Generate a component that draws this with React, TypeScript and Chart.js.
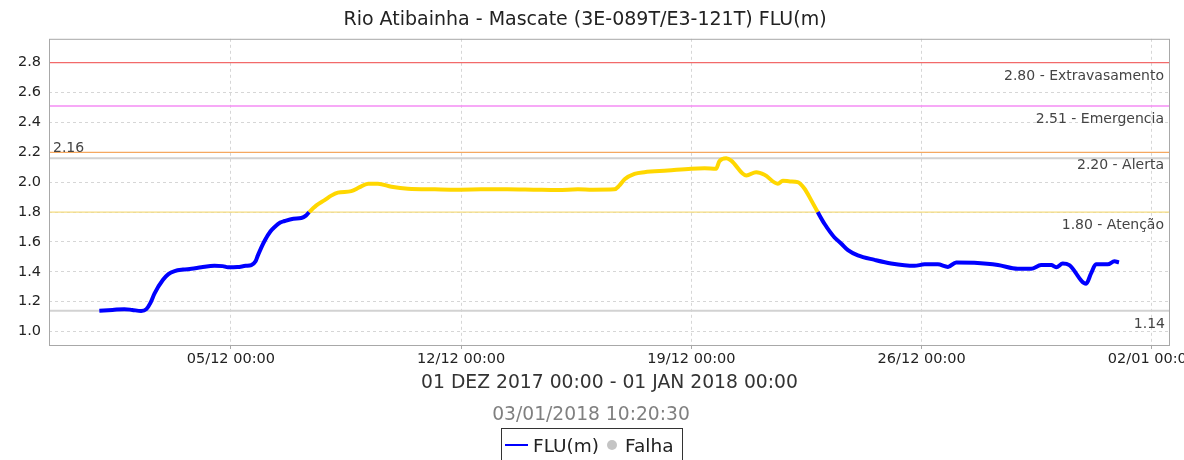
import React, { useEffect, useRef } from "react";
import { Chart, registerables } from "chart.js";

Chart.register(...registerables);

// Days since 01/12/2017 00:00
const days: number[] = [
  0, 0.4, 0.76, 1.0, 1.27, 1.43, 1.55, 1.68, 1.93, 2.1, 2.29, 2.55, 2.8, 3.1, 3.5, 3.75, 3.91,
  4.2, 4.45, 4.62, 4.75, 4.82, 5.03, 5.2, 5.33, 5.5, 5.63, 5.9, 6.14, 6.28, 6.38, 6.6, 6.85,
  7.05, 7.25, 7.66, 7.9, 8.17, 8.47, 8.88, 9.38, 10.2, 10.9, 11.6, 12.4, 13.2, 13.94, 14.55,
  15.0, 15.66, 15.8, 15.97, 16.27, 16.57, 17.28, 17.99, 18.4, 18.75, 18.85, 19.06, 19.21,
  19.67, 19.97, 20.22, 20.63, 20.78, 21.0, 21.23, 21.44, 21.64, 21.84, 22.05, 22.35, 22.55,
  22.76, 23.06, 23.57, 24.07, 24.78, 25.09, 25.49, 25.8, 26.05, 26.6, 27.32, 27.92, 28.33,
  28.63, 28.94, 29.09, 29.29, 29.49, 30.0, 30.15, 30.3, 30.66, 30.86, 31.0,
];

// FLU(m) level
const levels: number[] = [
  1.14, 1.145, 1.15, 1.145, 1.138, 1.15, 1.19, 1.256, 1.345, 1.385, 1.405, 1.415, 1.42, 1.43,
  1.44, 1.438, 1.43, 1.432, 1.44, 1.445, 1.47, 1.51, 1.61, 1.67, 1.7, 1.73, 1.74, 1.755, 1.76,
  1.776, 1.8, 1.845, 1.88, 1.91, 1.93, 1.94, 1.965, 1.99, 1.99, 1.97, 1.956, 1.952, 1.95,
  1.952, 1.953, 1.95, 1.947, 1.953, 1.95, 1.952, 1.975, 2.02, 2.056, 2.067, 2.078, 2.09, 2.093,
  2.09, 2.14, 2.16, 2.145, 2.045, 2.067, 2.05, 1.99, 2.01, 2.005, 2.0, 1.956, 1.88, 1.8, 1.72,
  1.63, 1.59, 1.545, 1.51, 1.48, 1.456, 1.44, 1.45, 1.45, 1.433, 1.463, 1.46, 1.445, 1.42,
  1.42, 1.445, 1.445, 1.43, 1.456, 1.445, 1.32, 1.39, 1.45, 1.45, 1.47, 1.463,
];

const xTickDays: number[] = [4, 11, 18, 25, 32];
const xTickLabels: string[] = ["05/12 00:00", "12/12 00:00", "19/12 00:00", "26/12 00:00", "02/01 00:00"];
const yTickValues: number[] = [1.0, 1.2, 1.4, 1.6, 1.8, 2.0, 2.2, 2.4, 2.6, 2.8];

const thresholdValues: number[] = [2.8, 2.51, 2.2, 1.8];
const thresholdLabels: string[] = ["2.80 - Extravasamento", "2.51 - Emergencia", "2.20 - Alerta", "1.80 - Atenção"];
const thresholdColors: string[] = ["#f26a6a", "#f58cf5", "#f5a860", "#f5dc80"];

const maxValue = 2.16;
const minValue = 1.14;
const attention = 1.8;

const titleText = "Rio Atibainha - Mascate (3E-089T/E3-121T) FLU(m)";
const periodText = "01 DEZ 2017 00:00 - 01 JAN 2018 00:00";
const stampText = "03/01/2018 10:20:30";
const legendLabels: string[] = ["FLU(m)", "Falha"];

const FONT = "'DejaVu Sans', sans-serif";
const BLUE = "#0000ff";
const YELLOW = "#ffd700";

const overlayPlugin = {
  id: "overlay",
  beforeDatasetsDraw(chart: any) {
    const { ctx, chartArea: a, scales } = chart;
    const y = scales.y;
    ctx.save();
    ctx.strokeStyle = "#d2d2d2";
    ctx.lineWidth = 2;
    [maxValue, minValue].forEach((v) => {
      const py = y.getPixelForValue(v);
      ctx.beginPath();
      ctx.moveTo(a.left, py);
      ctx.lineTo(a.right, py);
      ctx.stroke();
    });
    ctx.lineWidth = 1.3;
    thresholdValues.forEach((v, i) => {
      const py = y.getPixelForValue(v);
      ctx.strokeStyle = thresholdColors[i];
      ctx.beginPath();
      ctx.moveTo(a.left, py);
      ctx.lineTo(a.right, py);
      ctx.stroke();
    });
    ctx.restore();
  },
  afterDatasetsDraw(chart: any) {
    const { ctx, chartArea: a, scales } = chart;
    const y = scales.y;
    ctx.save();
    ctx.fillStyle = "#444";
    ctx.font = `14px ${FONT}`;
    ctx.textBaseline = "alphabetic";
    ctx.textAlign = "right";
    thresholdValues.forEach((v, i) => {
      const py = y.getPixelForValue(v);
      ctx.fillText(thresholdLabels[i], a.right - 6, py + 17);
    });
    ctx.fillText(minValue.toFixed(2), a.right - 5, y.getPixelForValue(minValue) + 17);
    ctx.textAlign = "left";
    ctx.fillText(maxValue.toFixed(2), a.left + 4, y.getPixelForValue(maxValue) - 6);
    ctx.strokeStyle = "#a8a8a8";
    ctx.lineWidth = 1;
    ctx.strokeRect(a.left + 0.5, a.top + 0.5, a.right - a.left - 1, a.bottom - a.top);
    ctx.restore();
  },
  afterDraw(chart: any) {
    const { ctx } = chart;
    const cx = 591;
    ctx.save();
    ctx.textAlign = "center";
    ctx.textBaseline = "alphabetic";
    ctx.fillStyle = "#808080";
    ctx.font = `18.7px ${FONT}`;
    ctx.fillText(stampText, cx, 420);
    const bx = 501, by = 428, bw = 181;
    ctx.strokeStyle = "#333";
    ctx.lineWidth = 1;
    ctx.strokeRect(bx + 0.5, by + 0.5, bw, 40);
    ctx.strokeStyle = BLUE;
    ctx.lineWidth = 2;
    ctx.beginPath();
    ctx.moveTo(bx + 4, by + 17);
    ctx.lineTo(bx + 27, by + 17);
    ctx.stroke();
    ctx.font = `18.5px ${FONT}`;
    ctx.fillStyle = "#222";
    ctx.textAlign = "left";
    ctx.fillText(legendLabels[0], bx + 32, by + 24);
    ctx.fillStyle = "#c4c4c4";
    ctx.beginPath();
    ctx.arc(bx + 111, by + 17, 5, 0, Math.PI * 2);
    ctx.fill();
    ctx.fillStyle = "#222";
    ctx.fillText(legendLabels[1], bx + 124, by + 24);
    ctx.restore();
  },
};

export default function App() {
  const ref = useRef<HTMLCanvasElement | null>(null);
  useEffect(() => {
    document.body.style.margin = "0";
    if (!ref.current) return;
    const points = days.map((d, i) => ({ x: d, y: levels[i] }));
    const chart = new Chart(ref.current, {
      type: "line",
      data: {
        datasets: [
          {
            label: legendLabels[0],
            data: points,
            borderColor: BLUE,
            borderWidth: 4,
            pointRadius: 0,
            cubicInterpolationMode: "monotone",
            segment: {
              borderColor: (c: any) =>
                (c.p0.parsed.y + c.p1.parsed.y) / 2 >= attention ? YELLOW : BLUE,
            },
          } as any,
        ],
      },
      options: {
        responsive: false,
        animation: false,
        layout: { padding: { left: 0, right: 14, top: 0, bottom: 66 } },
        plugins: {
          legend: { display: false },
          tooltip: { enabled: false },
          title: {
            display: true,
            text: titleText,
            color: "#222",
            font: { family: FONT, size: 19, weight: "normal" },
            padding: { top: 9, bottom: 7 },
          },
        },
        scales: {
          x: {
            type: "linear",
            min: -1.53,
            max: 32.55,
            afterBuildTicks: (s: any) => {
              s.ticks = xTickDays.map((v) => ({ value: v }));
            },
            afterFit: (s: any) => {
              s.height = 49;
              s.paddingLeft = 0;
              s.paddingRight = 0;
            },
            ticks: {
              autoSkip: false,
              maxRotation: 0,
              padding: 2,
              color: "#222",
              font: { family: FONT, size: 14.5 },
              callback: (v: any) => {
                const i = xTickDays.indexOf(Number(v));
                return i >= 0 ? xTickLabels[i] : "";
              },
            },
            grid: { color: "#d6d6d6", lineWidth: 1, tickLength: 4, tickColor: "#a8a8a8" },
            border: { display: false, dash: [3, 3] },
            title: {
              display: true,
              text: periodText,
              color: "#333",
              font: { family: FONT, size: 18.75 },
              padding: { top: 0, bottom: 0 },
            },
          },
          y: {
            type: "linear",
            min: 0.91,
            max: 2.96,
            afterBuildTicks: (s: any) => {
              s.ticks = yTickValues.map((v) => ({ value: v }));
            },
            afterFit: (s: any) => {
              s.width = 49;
              s.paddingTop = 0;
              s.paddingBottom = 0;
            },
            ticks: {
              padding: 8,
              color: "#222",
              font: { family: FONT, size: 14.5 },
              callback: (v: any) => Number(v).toFixed(1),
            },
            grid: { color: "#d6d6d6", lineWidth: 1, drawTicks: false },
            border: { display: false, dash: [3, 3] },
          },
        },
      },
      plugins: [overlayPlugin],
    });
    return () => chart.destroy();
  }, []);
  return (
    <div style={{ width: 1184, height: 460 }}>
      <canvas ref={ref} width={1184} height={460} style={{ display: "block" }} />
    </div>
  );
}
